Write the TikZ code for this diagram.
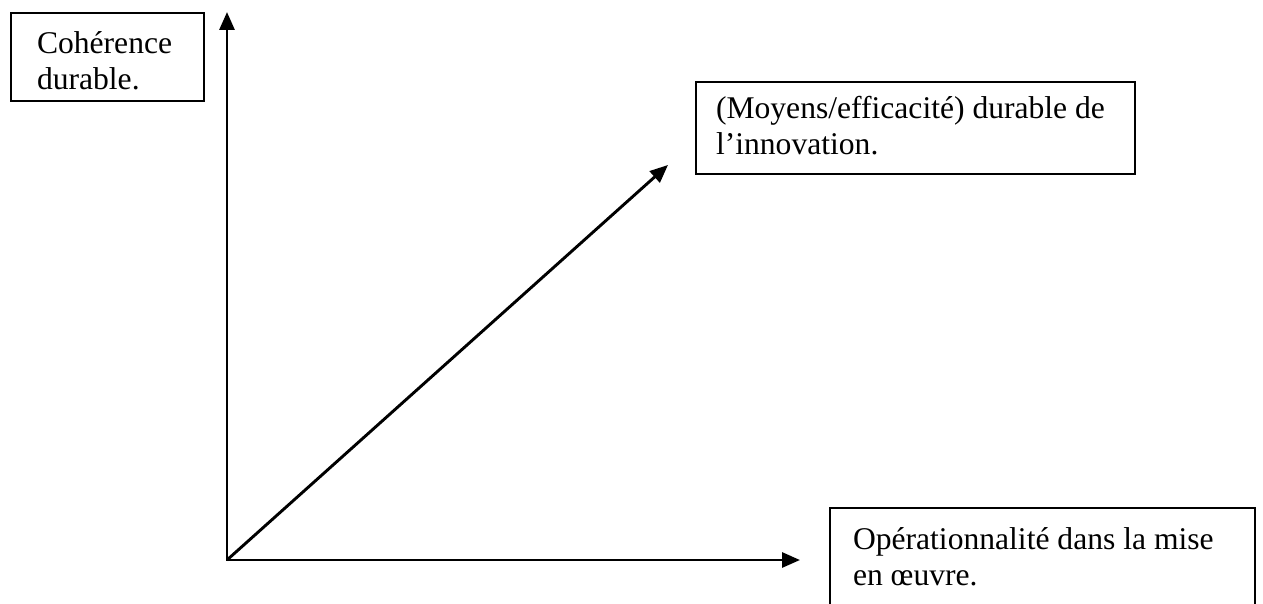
\documentclass[tikz,border=0pt]{standalone}
\usepackage{fontspec}
\setmainfont{Liberation Serif}
\usetikzlibrary{arrows.meta}

% one unit of the picture
\newlength{\px}
\setlength{\px}{0.5pt}
% #1 text width, #2 box height, #3 first baseline from top, #4 lines
\newcommand{\boxtext}[4]{\parbox[t][#2\px][t]{#1\px}{\rule{0pt}{#3\px}#4}}

\begin{document}
\begin{tikzpicture}
% Style
[
    x=\px, y=-\px,
    font=\fontsize{15.8}{18}\selectfont,
    >={Triangle[length=9pt, width=7.5pt]},
    box/.style={
        draw, line width=1pt, anchor=north west, inner ysep=0pt, inner xsep=#1*\px
    },
    axis/.style={line width=1.45pt}
]

%=================================== Start ===================================
{
    \clip[use as bounding box] (0,0) rectangle (1263,604);

    \coordinate (origin) at (227,560);
    \coordinate (y-tip)  at (227,12);
    \coordinate (x-tip)  at (800,560);
    \coordinate (d-tip)  at (668,165);

    \node[box=26] (coherence)  at (10,12)   {\boxtext{141}{88}{41}{\mbox{Cohérence}\\\mbox{durable.}}};
    \node[box=20] (efficacite) at (695,81)  {\boxtext{399}{92}{37}{\mbox{(Moyens/efficacité) durable de}\\\mbox{l’innovation.}}};
    \node[box=23] (operation)  at (829,507) {\boxtext{379}{140}{41}{\mbox{Opérationnalité dans la mise}\\\mbox{en œuvre.}}};

    % axes
    \draw[axis, <->] (y-tip) -- (origin) -- (x-tip);
    \draw[axis, ->] (origin) -- (d-tip);
}
%==================================== END ====================================

\end{tikzpicture}
\end{document}
